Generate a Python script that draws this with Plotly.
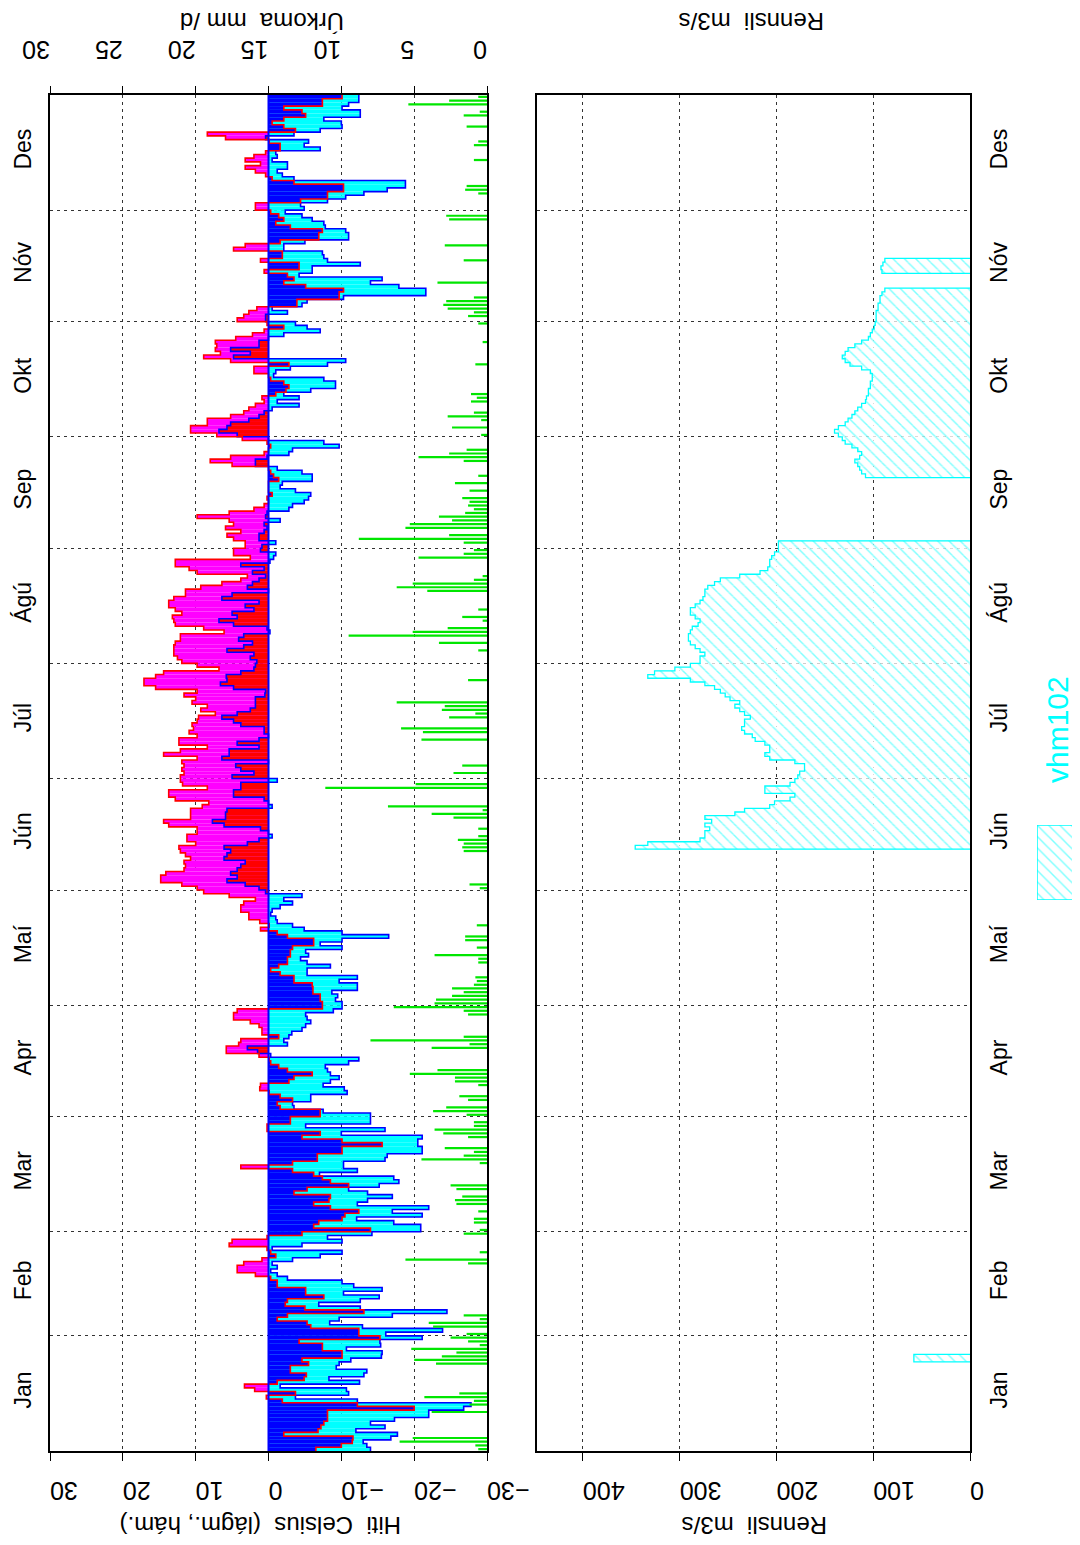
import plotly.graph_objects as go

# ---------------- data ----------------
months = ["Jan", "Feb", "Mar", "Apr", "Maí", "Jún", "Júl", "Ágú", "Sep", "Okt", "Nóv", "Des"]
month_start = [0, 31, 59, 90, 120, 151, 181, 212, 243, 273, 304, 334, 365]

temp_ticks = [-30, -20, -10, 0, 10, 20, 30]
temp_ticktext = ["−30", "−20", "−10", "0", "10", "20", "30"]
precip_ticks = [0, 5, 10, 15, 20, 25, 30]
flow_ticks = [0, 100, 200, 300, 400]

# daily max temperature (°C), Jan 1 .. Dec 31
tmax = [
    -6.5, -10, -11.5, -11.6, -2.1, -6.8, -7.2, -7.6, -8.1, -8.1,
    -8.1, -20, -12.2, -1.9, 0.3, -3.7, 1.9, 3.3, -1.2, -4.9,
    -5.2, -3, -3, -5.5, -4.6, -10.1, -10.1, -7.4, -7.4, -4.2,
    -15.3, -12.4, -12.4, -5.8, -5.3, -1.2, -2.6, -13.1, -5, -2.3,
    -2.6, -7.6, -5.1, -5.1, -1.2, -1.2, -0.3, 1.8, 4.3, 4.3,
    3.4, 0.9, -1, -0.3, 0.2, 5.4, 5, 0.2, -4.6, -14,
    -6.2, -6.9, -10.1, -10.5, -12.4, -8.5, -6.2, -8.3, -8.5, -3.5,
    -5.3, -11, -8.5, -7.4, -6.2, -3.3, 3.8, -3.3, -6.7, -6.7,
    -10.1, -10.1, -15.6, -10.1, -4.6, -7.1, 0.2, 0.2, -3, -3,
    -7.1, -7.1, -1.6, -1.2, -3.3, -1.6, -0.1, 1.2, 1.1, -2.8,
    -3.5, -6, -2.6, -1.4, -0.3, -0.1, 1.3, 5.8, 5.8, 4.1,
    3.8, -1.4, 0.9, 0.9, 1.3, 2.5, 4.8, 4.8, 4.3, -7.4,
    -7.4, -7.1, -7.1, -6.1, -6.1, -6, -3.5, -3.5, -1.6, -0.3,
    -1.4, -2.6, -2.6, -3, -3, -3.3, -6.2, -6.2, -2.6, -1.2,
    1.1, -0.1, 1.2, 2.7, 2.7, 3.8, 3.8, 3.4, 1.8, 5.4,
    8.9, 9.8, 11.9, 14.8, 14.8, 14.1, 11.6, 11.4, 11.6, 10.7,
    11.4, 12.1, 12.3, 10, 11.2, 11.2, 9.8, 9.8, 13.7, 14.4,
    10.7, 10.7, 10.7, 9.1, 8.2, 12.8, 13.7, 13.7, 8.4, 11.8,
    12.1, 12.1, 11.6, 11.9, 11.6, 11.9, 9.8, 14.4, 12.1, 8.4,
    12.3, 12.3, 9.8, 10.9, 10.3, 10.5, 9.8, 9.6, 7.3, 9.3,
    8.4, 10.5, 10, 11.6, 9.8, 15.5, 17.1, 17.1, 15.5, 14.4,
    6.8, 9.8, 11.9, 12.5, 13, 13, 13, 12.8, 12.1, 12.1,
    6.1, 8.9, 12.8, 13, 13.2, 11.9, 12.8, 13.7, 13.7, 13,
    11.4, 11.4, 9.3, 6.4, 3.8, 2.9, 9.8, 10.9, 12.8, 12.8,
    2.5, 4.8, 4.8, 3.2, 3.2, 4.8, 5.7, 3.8, 5.9, 4.8,
    5.4, 9.8, 5.4, 2, 0.6, 0, 0.2, -0.5, 0, 0,
    0, -1.4, -0.7, -0.3, 0, 5, 8, 5.2, 0.6, 0,
    -0.3, 0.2, 3.6, 7.1, 10.7, 10.7, 8.4, 8.4, 5.2, 3.4,
    2.7, 1.8, 0.6, 0.9, -1, -2.4, -2.8, -2.1, -0.3, 0,
    2, 2, -2.8, 5.2, 8.9, 6.6, 7.3, 7.1, 7.3, 4.5,
    2.2, 0.6, -2.1, 0.2, 4.3, 3.4, 2.7, 1.6, -3.9, -3.9,
    -9.7, -9.7, -10.3, -5.1, -2.1, -3.5, -2.6, 0.6, -4.2, -4.2,
    1.1, -1.9, -1.9, 4.8, 3.2, -1.6, -6.9, -6.9, -7.4, -3,
    -1, -2.1, -1.4, -0.3, 1.8, 1.8, -4.4, -8.1, -8.1, -10.3,
    -10.3, -3.5, -0.5, 0.4, 1.8, 3.2, 1.1, 3.2, 2, 0.4,
    -1.6, -1.6, -0.1, 5.9, 8.4, -3.7, -2.1, -0.5, -2.1, -5.1,
    -4.6, -2.1, -7.4, -7.4, -10.1,
]

# daily min temperature (°C), Jan 1 .. Dec 31
tmin = [
    -14, -13.5, -13, -16.8, -17.7, -12, -16, -14, -17.3, -22,
    -22, -26.8, -27.8, -12.2, -3.7, -11, -10.7, -1.6, -12.5, -8.3,
    -13.1, -13.5, -9.3, -9.7, -11.3, -15.5, -15.6, -10.7, -15.4, -15.3,
    -21.1, -16.1, -23.9, -12.9, -8.4, -9.7, -17, -24.5, -12.6, -6.9,
    -12.6, -15.2, -10.3, -15.6, -11.7, -10.1, -2.6, -1.2, -0.3, -1.2,
    -0.5, -3.3, -7.1, -10.1, -0.5, -4.6, -10.1, -8.1, -14.2, -20.9,
    -20.9, -17.2, -12.1, -21.1, -17, -22, -12.2, -13.6, -17, -13.6,
    -11, -15.2, -17.9, -17.2, -7, -12.2, -10.3, -10.3, -16, -16.3,
    -21.1, -21.1, -20.5, -20.5, -21.1, -10, -16, -5.1, -14, -14,
    -14, -7.5, -3.5, -3.3, -5.8, -5.8, -10.8, -10.4, -7.5, -8.5,
    -9.7, -8.5, -8.1, -7.8, -11, -12.4, -0.3, 1.5, 2.9, -2.6,
    -2.1, -2.8, -3.2, -4.6, -5.1, -5.8, -5.3, -5.1, -8.9, -10.1,
    -10.1, -9.2, -9.5, -8.7, -12.2, -12.2, -9.7, -12.2, -5.3, -5.3,
    -8.5, -5.3, -4.4, -5.5, -5.1, -10.1, -7.1, -10.1, -16.5, -10.1,
    -4.9, -3.3, -1.2, -1, -0.3, -0.5, -1.6, -3.3, -2.1, -4.6,
    0.4, 1.3, 3.2, 5.7, 4.3, 5.2, 4.3, 3.8, 3.2, 6.1,
    5.7, 5.2, 6.1, 2.9, 1.3, -0.5, 0, 1.1, 6.1, 7.7,
    5.9, 5.9, 5.7, -0.5, 0, 0.6, 4.8, 4.8, 3.8, 3.8,
    -1.2, 5, 2, 3.8, 4.5, 0, 6.4, 5.4, 5.4, 1.3,
    4.3, 1.3, 0, 0.6, 0.6, 3.8, 4.8, 6.4, 4.3, 2.5,
    1.8, 1.8, 1.8, 0.5, 0.4, 4.8, 6.6, 5.7, 5.8, 3.8,
    2, 1.8, 1.6, 2.5, 2, 5.7, 3.4, 2.2, 4.1, 3.4,
    -0.2, 0.2, 4.8, 6.8, 4.3, 5, 2, 3.2, 1.3, 6.4,
    5, 0, 2.9, 2.2, 1.3, 0.4, 2.2, 0.6, 3.8, -0.2,
    -0.7, -1, 1.1, 0.9, -1, 1.3, 1.3, 0.6, 0.2, 0.6,
    -1.6, 0.4, 0.2, -2.8, -3.3, -4.9, -5.5, -5.8, -3.7, -1.6,
    -1.9, -6, -6, -4.6, -1.2, 1.8, 1.8, 0.2, -2.8, -3.3,
    -9.7, -7.6, 0, 4.3, 6.8, 5.7, 5.2, 2.7, 1.3, 0.6,
    -0.5, -4.2, -1.2, -4.2, -2.1, -5.8, -9.2, -9.2, -7.6, -0.7,
    -1, -3, -8.1, -10.6, 4.8, 2.5, 5.2, 1.3, 1.3, 0,
    -2.1, -7.1, -5.3, -3.7, 0.4, 0.4, -2.6, -0.5, -4.6, -5.3,
    -10.3, -21.6, -21.6, -17.9, -14, -15.6, -4.2, -6, -6, -12.6,
    -8.1, -7.6, -7.4, -2.1, -2.1, -5, -11, -11, -10.6, -7.8,
    -7.6, -6, -4.6, -2.3, -4.9, -4.4, -8.1, -10.6, -13.1, -16.3,
    -18.8, -18.8, -3.5, -1.9, -1.2, -2.6, -2.6, -0.5, -1.2, -1,
    -7.1, -4.9, -5.5, 0.4, -3.5, -7.1, -10.1, -10, -7.6, -12.6,
    -12.6, -10.1, -11, -12.4, -12.4,
]

# precipitation (mm/d): day of year (0 = Jan 1) and amount
precip_days = [0, 1, 2, 3, 10, 12, 13, 14, 15, 23, 24, 25, 26, 27, 28, 29, 30, 31, 33, 34, 35, 36,
               50, 51, 53, 58, 59, 61, 62, 64, 66, 67, 68, 70, 71, 77, 78, 79, 80,
               81, 84, 85, 86, 87, 88, 90, 91, 92, 94, 95, 98, 99, 100, 101, 102, 108, 109, 110, 111,
               117, 118, 119, 120, 121, 122, 123, 124, 125, 126, 127, 131, 132, 133, 135, 137, 138,
               141, 151, 152, 161, 162, 163, 164, 165, 167, 170, 171, 172, 173, 178, 179, 182, 184,
               191, 193, 194, 197, 198, 199, 200, 201, 207, 215, 217, 219, 220, 221, 223, 224, 226,
               231, 232, 233, 234, 235, 240, 241, 242, 244, 245, 246, 248, 249, 250, 251, 252, 253,
               254, 255, 256, 258, 260, 262, 266, 267, 268, 269, 273, 275, 277, 278, 279, 282, 283,
               284, 292, 298, 303, 305, 306, 307, 308, 309, 310, 314, 320, 324, 331, 332, 338, 339,
               340, 347, 351, 352, 356, 359, 360, 362, 363, 364]
precip_mm = [0.6, 0.8, 6.0, 5.1, 3.8, 1.2, 0.9, 4.3, 1.9, 3.5, 5.0, 3.1, 2.1, 5.2, 0.5, 1.3, 2.5, 1.4, 3.7, 4.0, 0.5, 1.6,
             1.3, 5.6, 0.5, 1.6, 0.5, 0.9, 0.9, 0.6, 2.1, 2.2, 1.7, 2.1, 2.5, 0.5, 4.5, 1.6, 0.9,
             2.9, 1.3, 3.0, 3.6, 0.9, 0.9, 1.4, 3.7, 2.8, 1.3, 1.9, 0.6, 2.2, 2.2, 5.3, 3.4, 3.8, 1.2, 8.0, 1.6,
             1.3, 1.6, 6.4, 3.6, 3.5, 2.4, 1.6, 2.4, 0.9, 0.7, 0.8, 0.6, 0.6, 3.6, 0.7, 1.5, 1.5,
             0.7, 0.5, 1.2, 1.6, 1.7, 1.6, 2.0, 0.6, 0.6, 2.3, 3.8, 0.3, 6.8, 11.1, 4.9, 2.3, 1.7,
             4.5, 4.4, 5.9, 2.6, 0.8, 3.1, 2.9, 6.2, 1.3, 0.6, 3.3, 9.5, 5.1, 2.7, 0.3, 1.7, 0.6,
             4.1, 6.2, 5.1, 0.9, 0.3, 4.7, 1.6, 0.9, 1.6, 8.8, 2.6, 5.6, 5.3, 2.4, 3.3, 1.5, 0.9,
             1.3, 1.2, 1.7, 1.2, 2.2, 0.6, 1.6, 4.7, 2.6, 1.4, 0.4, 2.4, 0.4, 2.7, 0.9, 1.1, 0.7,
             1.1, 0.8, 0.3, 0.6, 1.3, 0.9, 2.7, 3.0, 2.8, 0.9, 3.4, 1.6, 2.9, 2.6, 2.8, 0.6, 1.5,
             1.4, 0.9, 0.9, 0.6, 1.4, 1.6, 0.5, 5.4, 2.6, 0.6]

# discharge vhm102 (m3/s): day of year and mean flow
flow_days = ([24, 25]
             + list(range(162, 245))
             + list(range(262, 313))
             + list(range(317, 321)))
flow_vals = ([58, 58]
             + [346, 333, 279, 274, 274, 269, 274, 267, 274, 243,
                233, 207, 202, 186, 181, 212, 212, 186, 181, 178,
                176, 171, 171, 181, 207, 212, 207, 207, 212, 222,
                225, 233, 236, 233, 233, 227, 233, 238, 243, 238,
                248, 253, 258, 264, 274, 289, 333, 326, 305, 289,
                279, 279, 274, 279, 284, 289, 291, 291, 289, 287,
                281, 279, 284, 289, 289, 284, 279, 276, 274, 274,
                271, 264, 258, 238, 217, 209, 207, 207, 205, 202,
                198, 198, 198]
             + [108, 112, 114, 116, 119, 114, 112, 116, 122, 129,
                132, 136, 140, 136, 129, 126, 122, 119, 116, 112,
                108, 107, 105, 105, 103, 103, 101, 101, 103, 112,
                124, 129, 132, 129, 126, 119, 112, 105, 103, 101,
                99, 98, 97, 97, 97, 95, 95, 93, 93, 91, 88]
             + [91, 92, 90, 88])

# ---------------- figure ----------------
BLUE, CYAN, RED, MAG, GREEN = "#0000ff", "#00ffff", "#ff0000", "#ff00ff", "#00e600"
FONT = "Liberation Sans, Arial, Helvetica, sans-serif"
GRID = dict(showgrid=True, gridcolor="#333333", griddash="3px,4px", gridwidth=1)

ndays = len(tmax)
yc = [d + 0.5 for d in range(ndays)]
fig = go.Figure()


def masked(vals, cond):
    return [v if cond(v) else None for v in vals]


# fills: light colours first, then the darker inner parts
for vals, cond, col in [
    (tmin, lambda v: v < 0, CYAN),
    (tmax, lambda v: v > 0, MAG),
    (tmax, lambda v: v < 0, BLUE),
    (tmin, lambda v: v > 0, RED),
]:
    fig.add_trace(go.Bar(x=masked(vals, cond), y=yc, orientation="h", width=1,
                         marker=dict(color=col, line=dict(width=0)),
                         xaxis="x", yaxis="y", hoverinfo="skip"))

# step outlines
ys = list(range(ndays)) + [ndays]
fig.add_trace(go.Scatter(x=tmin + [tmin[-1]], y=ys, mode="lines", line=dict(color=BLUE, width=1.6, shape="vh"),
                         xaxis="x", yaxis="y", hoverinfo="skip"))
fig.add_trace(go.Scatter(x=tmax + [tmax[-1]], y=ys, mode="lines", line=dict(color=RED, width=1.6, shape="vh"),
                         xaxis="x", yaxis="y", hoverinfo="skip"))

# precipitation
fig.add_trace(go.Bar(x=precip_mm, y=[d + 0.5 for d in precip_days], orientation="h", width=0.6,
                     marker=dict(color=GREEN, line=dict(width=0)), xaxis="x2", yaxis="y", hoverinfo="skip"))

# discharge (hatched)
fig.add_trace(go.Bar(x=flow_vals, y=[d + 0.5 for d in flow_days], orientation="h", width=1,
                     marker=dict(color="white", line=dict(width=0),
                                 pattern=dict(shape="\\", fgcolor=CYAN, bgcolor="white", size=8, solidity=0.18)),
                     xaxis="x3", yaxis="y2", hoverinfo="skip"))
ox, oy = [], []
prev = None
for d, q in zip(flow_days, flow_vals):
    if prev is None or d != prev + 1:
        if prev is not None:
            ox += [0, None]
            oy += [prev + 1, None]
        ox.append(0)
        oy.append(d)
    ox.append(q)
    oy.append(d)
    prev = d
ox.append(0)
oy.append(prev + 1)
fig.add_trace(go.Scatter(x=ox, y=oy, mode="lines", line=dict(color=CYAN, width=1.3, shape="vh"),
                         xaxis="x3", yaxis="y2", hoverinfo="skip", connectgaps=False))

# legend swatch
fig.add_trace(go.Bar(x=[1], y=[0], orientation="h", width=1,
                     marker=dict(color="white", line=dict(color=CYAN, width=1.5),
                                 pattern=dict(shape="\\", fgcolor=CYAN, bgcolor="white", size=8, solidity=0.18)),
                     xaxis="x5", yaxis="y5", hoverinfo="skip"))

# page offset of the plot area (browser body margin of 8 px is compensated)
L, T = 42, 87
W = 1030.0
H = 1356.0


def px(xpage):
    return (xpage - 50) / W


def py(ypage):
    return (1451 - ypage) / H


mid = [(month_start[i] + month_start[i + 1]) / 2 for i in range(12)]
yax = dict(range=[0, 365], tickmode="array", tickvals=mid, ticktext=months, tickangle=-90, ticks="",
           showgrid=False, zeroline=False, showline=True, linecolor="black", linewidth=1.5, mirror=True,
           tickfont=dict(size=23), automargin=False,
           minor=dict(tickmode="array", tickvals=month_start[1:-1], ticks="", **GRID))
xcommon = dict(tickangle=180, ticks="outside", ticklen=8, tickcolor="black", tickwidth=1,
               tickfont=dict(size=25), zeroline=False, automargin=False)

ann = dict(xref="paper", yref="paper", showarrow=False, xanchor="center", yanchor="middle")

fig.update_layout(
    width=1080, height=1545,
    margin=dict(l=L, r=1080 - L - int(W), t=T, b=1545 - T - int(H)),
    paper_bgcolor="white", plot_bgcolor="white",
    barmode="overlay", showlegend=False,
    font=dict(family=FONT, color="black"),
    xaxis=dict(domain=[0, px(487)], range=[30, -30], tickmode="array", tickvals=temp_ticks,
               ticktext=temp_ticktext, anchor="y", showline=True, linecolor="black", linewidth=1.5,
               mirror=True, ticklabelstandoff=16, **GRID, **xcommon),
    xaxis2=dict(overlaying="x", side="top", range=[30, 0], tickmode="array", tickvals=precip_ticks,
                anchor="y", showgrid=False, ticklabelstandoff=10, **xcommon),
    xaxis3=dict(domain=[px(537), px(970)], range=[447.5, 0], tickmode="array", tickvals=flow_ticks,
                anchor="y2", showline=True, linecolor="black", linewidth=1.5, mirror=True,
                ticklabelstandoff=16, **GRID, **xcommon),
    xaxis4=dict(overlaying="x3", side="top", range=[447.5, 0], tickmode="array", tickvals=flow_ticks,
                anchor="y2", showgrid=False, ticklabelstandoff=10, **xcommon),
    xaxis5=dict(domain=[px(1037), px(1075)], range=[0, 1], anchor="y5", visible=False, automargin=False),
    yaxis=dict(domain=[0, 1], anchor="x", side="left", ticklabelstandoff=8, **yax),
    yaxis2=dict(domain=[0, 1], anchor="x3", side="right", ticklabelstandoff=8, **yax),
    yaxis5=dict(domain=[py(900), py(825)], range=[-0.5, 0.5], anchor="x5",
                visible=False, automargin=False),
    shapes=[dict(type="line", xref="x", yref="y", x0=0, x1=0, y0=0, y1=365,
                 line=dict(color=BLUE, width=2), layer="above")],
    annotations=[
        dict(text="Hiti\u00a0\u00a0Celsius\u00a0\u00a0(lágm., hám.)", x=px(261), y=py(1526),
             textangle=180, font=dict(size=24), **ann),
        dict(text="Úrkoma\u00a0\u00a0mm /d", x=px(262), y=py(22),
             textangle=180, font=dict(size=24), **ann),
        dict(text="Rennsli\u00a0\u00a0m3/s", x=px(755), y=py(1526),
             textangle=180, font=dict(size=24), **ann),
        dict(text="Rennsli\u00a0\u00a0m3/s", x=px(752), y=py(22),
             textangle=180, font=dict(size=24), **ann),
        dict(text="vhm102", x=px(1057), y=py(730), textangle=-90, font=dict(size=30, color=CYAN), **ann),
    ],
)

fig.write_html("out.html")
